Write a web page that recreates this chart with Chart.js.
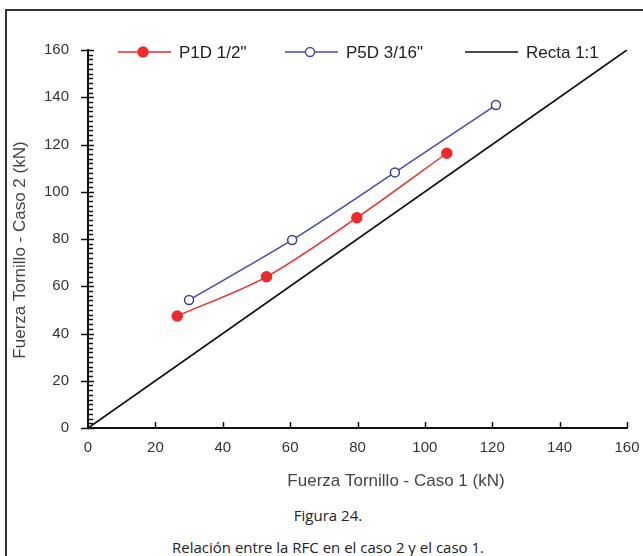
<!DOCTYPE html>
<html>
<head>
<meta charset="utf-8">
<script src="https://cdn.jsdelivr.net/npm/chart.js@4.4.1/dist/chart.umd.min.js"></script>
<style>
  body { margin: 0; background: #fff; width: 643px; height: 556px; overflow: hidden; position: relative; }
  #frame { position: absolute; left: 5px; top: 9px; width: 700px; height: 600px; border: 2px solid #333; box-sizing: border-box; }
  #wrap { position: absolute; left: 0; top: 0; width: 643px; height: 500px; }
  .cap { position: absolute; left: 0; width: 656px; text-align: center; font-family: "Open Sans", "Noto Sans", sans-serif; font-size: 15px; line-height: 20px; color: #222; }
</style>
</head>
<body>
<div id="frame"></div>
<div id="wrap"><canvas id="rfc-chart" width="643" height="500"></canvas></div>
<div class="cap" style="top:505px;">Figura 24.</div>
<div class="cap" style="top:537px;">Relación entre la RFC en el caso 2 y el caso 1.</div>
<script>
// valores (kN)
var p1dX = [26.5, 53.0, 79.8, 106.5];
var p1dY = [47.4, 64.0, 89.0, 116.3];
var p5dX = [30.0, 60.6, 91.1, 121.1];
var p5dY = [54.2, 79.6, 108.2, 136.7];
var rectaX = [0, 160];
var rectaY = [0, 160];
var seriesNames = ['P1D 1/2"', 'P5D 3/16"', "Recta 1:1"];
var xTitle = "Fuerza Tornillo - Caso 1 (kN)";
var yTitle = "Fuerza Tornillo - Caso 2 (kN)";

function toPoints(xs, ys) {
  return xs.map((x, i) => ({ x: x, y: ys[i] }));
}

var FONT = "Liberation Sans, Arial, sans-serif";

// ticks, titulos y leyenda dibujados a mano
var extrasPlugin = {
  id: "extras",
  afterDraw(chart) {
    let ctx = chart.ctx;
    let xs = chart.scales.x;
    let ys = chart.scales.y;
    let x0 = xs.getPixelForValue(0);
    let y0 = ys.getPixelForValue(0);
    ctx.save();
    ctx.strokeStyle = "#111";
    ctx.lineWidth = 1.5;
    // y: mayores cada 20, menores cada 2
    for (let v = 0; v <= 160; v += 2) {
      let py = Math.round(ys.getPixelForValue(v)) + 0.5;
      ctx.beginPath();
      if (v % 20 == 0) {
        ctx.moveTo(x0 - 7, py);
        ctx.lineTo(x0 + 6, py);
      } else {
        ctx.moveTo(x0, py);
        ctx.lineTo(x0 + 5, py);
      }
      ctx.stroke();
    }
    // x: mayores hacia arriba
    for (let v = 20; v <= 160; v += 20) {
      let px = Math.round(xs.getPixelForValue(v)) + 0.5;
      ctx.beginPath();
      ctx.moveTo(px, y0);
      ctx.lineTo(px, y0 - 6);
      ctx.stroke();
    }
    // titulos de ejes
    ctx.fillStyle = "#444";
    ctx.font = "17px " + FONT;
    ctx.textAlign = "center";
    ctx.textBaseline = "middle";
    ctx.fillText(xTitle, 396, 481);
    ctx.save();
    ctx.translate(20, 250);
    ctx.rotate(-Math.PI / 2);
    ctx.fillText(yTitle, 0, 0);
    ctx.restore();

    // leyenda
    let ly = 52;
    let items = [
      { x: 118, color: "#ee2a2a", fill: "#ee2a2a", r: 5, text: seriesNames[0] },
      { x: 285, color: "#4a4aa8", fill: "#fff", r: 4.5, text: seriesNames[1] },
      { x: 465, color: "#111", fill: null, r: 0, text: seriesNames[2] },
    ];
    ctx.font = "17px " + FONT;
    ctx.textAlign = "left";
    items.forEach((it) => {
      ctx.strokeStyle = it.color;
      ctx.lineWidth = 1.5;
      ctx.beginPath();
      ctx.moveTo(it.x, ly);
      ctx.lineTo(it.x + 53, ly);
      ctx.stroke();
      if (it.r > 0) {
        ctx.beginPath();
        ctx.arc(it.x + 25, ly, it.r, 0, Math.PI * 2);
        ctx.fillStyle = it.fill;
        ctx.fill();
        ctx.stroke();
      }
      ctx.fillStyle = "#222";
      ctx.fillText(it.text, it.x + 61, ly + 1);
    });
    ctx.restore();
  },
};

var rfcChart = new Chart(document.getElementById("rfc-chart"), {
  type: "scatter",
  data: {
    datasets: [
      {
        label: seriesNames[2],
        data: toPoints(rectaX, rectaY),
        showLine: true,
        borderColor: "#111",
        borderWidth: 1.8,
        pointRadius: 0,
        order: 3,
      },
      {
        label: seriesNames[1],
        data: toPoints(p5dX, p5dY),
        showLine: true,
        tension: 0.3,
        borderColor: "#4a4aa8",
        borderWidth: 1.5,
        pointRadius: 4.5,
        pointBackgroundColor: "#fff",
        pointBorderColor: "#3c3ca0",
        pointBorderWidth: 1.5,
        order: 2,
      },
      {
        label: seriesNames[0],
        data: toPoints(p1dX, p1dY),
        showLine: true,
        tension: 0.3,
        borderColor: "#ee2a2a",
        borderWidth: 1.5,
        pointRadius: 5,
        pointBackgroundColor: "#ee2a2a",
        pointBorderColor: "#ee2a2a",
        order: 1,
      },
    ],
  },
  options: {
    responsive: false,
    animation: false,
    maintainAspectRatio: false,
    layout: { padding: { left: 0, top: 50, right: 16, bottom: 32 } },
    plugins: {
      legend: { display: false },
      tooltip: { enabled: false },
    },
    scales: {
      x: {
        type: "linear",
        min: 0,
        max: 160,
        afterFit: (scale) => { scale.height = 40; },
        grid: { display: false },
        border: { display: true, color: "#111", width: 2 },
        ticks: { stepSize: 20, padding: 3, color: "#333", font: { family: FONT, size: 15 } },
      },
      y: {
        type: "linear",
        min: 0,
        max: 160,
        afterFit: (scale) => { scale.width = 88; },
        grid: { display: false },
        border: { display: true, color: "#111", width: 2 },
        ticks: { stepSize: 20, padding: 11, color: "#333", font: { family: FONT, size: 15 } },
      },
    },
  },
  plugins: [extrasPlugin],
});
</script>
</body>
</html>
